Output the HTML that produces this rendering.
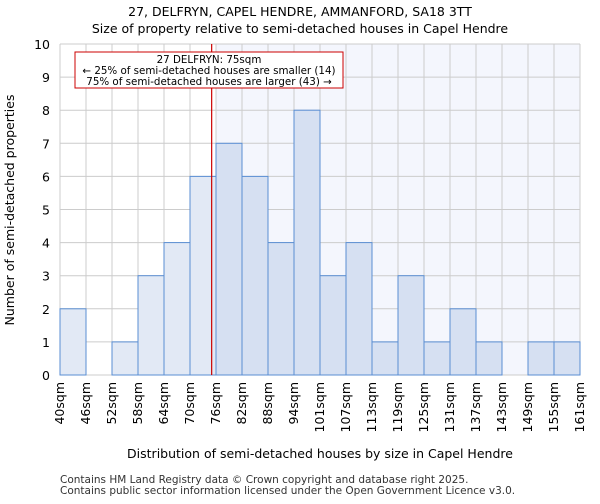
<!DOCTYPE html>
<html><head><meta charset="utf-8"><style>
body{margin:0;background:#fff;font-family:"DejaVu Sans","Liberation Sans",sans-serif;}
</style></head><body>
<svg width="600" height="500" xmlns="http://www.w3.org/2000/svg" font-family="DejaVu Sans, Liberation Sans, sans-serif">
<text x="300" y="16" text-anchor="middle" font-size="12.5">27, DELFRYN, CAPEL HENDRE, AMMANFORD, SA18 3TT</text>
<text x="300" y="33" text-anchor="middle" font-size="12.5">Size of property relative to semi-detached houses in Capel Hendre</text>
<g id="plot"></g>
<text x="320" y="458" text-anchor="middle" font-size="12.5">Distribution of semi-detached houses by size in Capel Hendre</text>
<text x="14" y="210" text-anchor="middle" font-size="12.5" transform="rotate(-90 14 210)">Number of semi-detached properties</text>
<text x="60" y="483" font-size="10.5" fill="#333">Contains HM Land Registry data © Crown copyright and database right 2025.</text>
<text x="60" y="494" font-size="10.5" fill="#333">Contains public sector information licensed under the Open Government Licence v3.0.</text>
</svg>
<script>
const categories=["40sqm","46sqm","52sqm","58sqm","64sqm","70sqm","76sqm","82sqm","88sqm","94sqm","101sqm","107sqm","113sqm","119sqm","125sqm","131sqm","137sqm","143sqm","149sqm","155sqm","161sqm"];
const counts=[2,0,1,3,4,6,7,6,4,8,3,4,1,3,1,2,1,0,1,1];
const yTicks=[0,1,2,3,4,5,6,7,8,9,10];
const propertySize=75;
const highlightBin=6;
const NS="http://www.w3.org/2000/svg";
const g=document.getElementById('plot');
const X0=60,X1=580,Y0=375,Y1=44,binW=(X1-X0)/counts.length;
const x=i=>X0+i*binW;
const y=v=>Y0-(v/10)*(Y0-Y1);
const xs=s=>X0+((s-40)/6)*binW;
function el(t,a){const e=document.createElementNS(NS,t);for(const k in a)e.setAttribute(k,a[k]);g.appendChild(e);return e;}
let e=el('rect',{x:x(highlightBin),y:Y1,width:X1-x(highlightBin),height:Y0-Y1,fill:'#f4f6fd'});


yTicks.forEach(t=>{let l=el('line',{x1:X0,x2:X1,y1:y(t),y2:y(t),stroke:'#ccc','stroke-width':1});


let tx=el('text',{x:X0-10,y:y(t)+5,'text-anchor':'end','font-size':12.5});tx.textContent=t;

});
categories.forEach((c,i)=>{let l=el('line',{x1:x(i),x2:x(i),y1:Y1,y2:Y0,stroke:'#ccc','stroke-width':1});


let tx=el('text',{x:0,y:0,'text-anchor':'end','font-size':12.5,transform:`translate(${x(i)+4},${Y0+7}) rotate(-90)`});tx.textContent=c;

});
counts.forEach((v,i)=>{if(v<=0)return;let r=el('rect',{x:x(i),y:y(v),width:binW,height:Y0-y(v),fill:i<highlightBin?'#e2e9f5':'#d6e0f2',stroke:'#5a8ed3','stroke-width':1});

});
e=el('line',{x1:xs(propertySize),x2:xs(propertySize),y1:Y1,y2:Y0,stroke:'#c00','stroke-width':1.2});


e=el('rect',{x:75,y:52,width:268,height:36,fill:'#fff',stroke:'#c00','stroke-width':1});


["27 DELFRYN: 75sqm","← 25% of semi-detached houses are smaller (14)","75% of semi-detached houses are larger (43) →"].forEach((s,i)=>{let t=el('text',{x:209,y:63+i*11,'text-anchor':'middle','font-size':10.3});t.textContent=s;

});
</script>
</body></html>
